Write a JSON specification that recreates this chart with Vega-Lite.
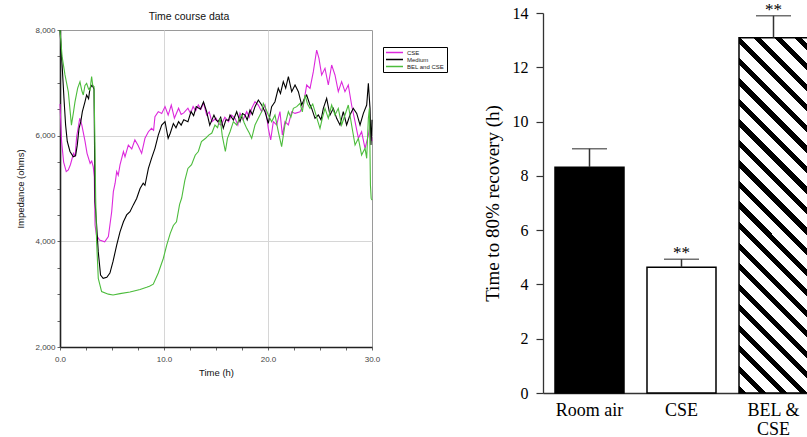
{
"$schema":"https://vega.github.io/schema/vega-lite/v6.json",
"background":"white",
"padding":{"left":15,"top":0,"right":0,"bottom":0},
"spacing":102,
"config":{"view":{"stroke":null}},
"datasets":{
"rec":[
{"group":"Room air","mean":8.32,"upper":9.0,"sig":""},
{"group":"CSE","mean":4.63,"upper":4.93,"sig":"**"},
{"group":"BEL & CSE","mean":13.09,"upper":13.9,"sig":"**"}
],
"tc":[
{"series":"CSE","time":0,"impedance":6600},{"series":"CSE","time":0.15,"impedance":5900},{"series":"CSE","time":0.35,"impedance":5500},{"series":"CSE","time":0.6,"impedance":5320},{"series":"CSE","time":0.8,"impedance":5350},{"series":"CSE","time":1.0,"impedance":5450},{"series":"CSE","time":1.3,"impedance":5665},{"series":"CSE","time":1.45,"impedance":5600},{"series":"CSE","time":1.6,"impedance":5980},{"series":"CSE","time":1.9,"impedance":6330},{"series":"CSE","time":2.1,"impedance":6200},{"series":"CSE","time":2.4,"impedance":5900},{"series":"CSE","time":2.6,"impedance":5665},{"series":"CSE","time":2.9,"impedance":5475},{"series":"CSE","time":3.05,"impedance":5520},{"series":"CSE","time":3.2,"impedance":5410},{"series":"CSE","time":3.3,"impedance":5220},{"series":"CSE","time":3.37,"impedance":4310},{"series":"CSE","time":3.5,"impedance":4120},{"series":"CSE","time":3.8,"impedance":4025},{"series":"CSE","time":4.3,"impedance":3990},{"series":"CSE","time":4.65,"impedance":4090},{"series":"CSE","time":4.8,"impedance":4310},{"series":"CSE","time":4.97,"impedance":4560},{"series":"CSE","time":5.13,"impedance":4940},{"series":"CSE","time":5.3,"impedance":5100},{"series":"CSE","time":5.45,"impedance":5320},{"series":"CSE","time":5.6,"impedance":5250},{"series":"CSE","time":5.77,"impedance":5445},{"series":"CSE","time":6.1,"impedance":5700},{"series":"CSE","time":6.25,"impedance":5600},{"series":"CSE","time":6.57,"impedance":5820},{"series":"CSE","time":6.9,"impedance":5750},{"series":"CSE","time":7.2,"impedance":5920},{"series":"CSE","time":7.5,"impedance":5820},{"series":"CSE","time":7.85,"impedance":5665},{"series":"CSE","time":8.17,"impedance":5950},{"series":"CSE","time":8.5,"impedance":6075},{"series":"CSE","time":8.8,"impedance":6140},{"series":"CSE","time":9.0,"impedance":6100},{"series":"CSE","time":9.13,"impedance":6360},{"series":"CSE","time":9.45,"impedance":6455},{"series":"CSE","time":9.78,"impedance":6420},{"series":"CSE","time":10.1,"impedance":6550},{"series":"CSE","time":10.4,"impedance":6390},{"series":"CSE","time":10.7,"impedance":6580},{"series":"CSE","time":11.0,"impedance":6330},{"series":"CSE","time":11.4,"impedance":6520},{"series":"CSE","time":11.65,"impedance":6400},{"series":"CSE","time":11.9,"impedance":6430},{"series":"CSE","time":12.3,"impedance":6520},{"series":"CSE","time":12.55,"impedance":6420},{"series":"CSE","time":12.8,"impedance":6550},{"series":"CSE","time":13.05,"impedance":6470},{"series":"CSE","time":13.3,"impedance":6580},{"series":"CSE","time":13.55,"impedance":6500},{"series":"CSE","time":13.8,"impedance":6620},{"series":"CSE","time":14.1,"impedance":6390},{"series":"CSE","time":14.35,"impedance":6450},{"series":"CSE","time":14.6,"impedance":6265},{"series":"CSE","time":15.0,"impedance":6330},{"series":"CSE","time":15.25,"impedance":6230},{"series":"CSE","time":15.5,"impedance":6200},{"series":"CSE","time":15.85,"impedance":6350},{"series":"CSE","time":16.2,"impedance":6265},{"series":"CSE","time":16.5,"impedance":6390},{"series":"CSE","time":16.83,"impedance":6328},{"series":"CSE","time":17.1,"impedance":6200},{"series":"CSE","time":17.31,"impedance":6422},{"series":"CSE","time":17.6,"impedance":6300},{"series":"CSE","time":17.95,"impedance":6454},{"series":"CSE","time":18.2,"impedance":6350},{"series":"CSE","time":18.43,"impedance":6517},{"series":"CSE","time":18.75,"impedance":6643},{"series":"CSE","time":19.07,"impedance":6580},{"series":"CSE","time":19.39,"impedance":6454},{"series":"CSE","time":19.71,"impedance":6580},{"series":"CSE","time":20.03,"impedance":6138},{"series":"CSE","time":20.26,"impedance":5918},{"series":"CSE","time":20.51,"impedance":6265},{"series":"CSE","time":20.83,"impedance":6202},{"series":"CSE","time":21.15,"impedance":6454},{"series":"CSE","time":21.38,"impedance":6012},{"series":"CSE","time":21.63,"impedance":6265},{"series":"CSE","time":21.96,"impedance":6202},{"series":"CSE","time":22.28,"impedance":6454},{"series":"CSE","time":22.6,"impedance":6422},{"series":"CSE","time":23.08,"impedance":6454},{"series":"CSE","time":23.4,"impedance":6580},{"series":"CSE","time":23.72,"impedance":6959},{"series":"CSE","time":24.04,"impedance":6896},{"series":"CSE","time":24.36,"impedance":7211},{"series":"CSE","time":24.68,"impedance":7621},{"series":"CSE","time":24.9,"impedance":7464},{"series":"CSE","time":25.16,"impedance":7148},{"series":"CSE","time":25.48,"impedance":7274},{"series":"CSE","time":25.8,"impedance":6959},{"series":"CSE","time":26.12,"impedance":7337},{"series":"CSE","time":26.44,"impedance":7148},{"series":"CSE","time":26.76,"impedance":6833},{"series":"CSE","time":27.08,"impedance":7022},{"series":"CSE","time":27.4,"impedance":6833},{"series":"CSE","time":27.72,"impedance":6959},{"series":"CSE","time":28.04,"impedance":6580},{"series":"CSE","time":28.37,"impedance":6265},{"series":"CSE","time":28.69,"impedance":5949},{"series":"CSE","time":29.0,"impedance":6075},{"series":"CSE","time":29.33,"impedance":5760},{"series":"CSE","time":29.65,"impedance":6012},{"series":"CSE","time":29.81,"impedance":6202},{"series":"CSE","time":30,"impedance":5900},
{"series":"Medium","time":0,"impedance":8000},{"series":"Medium","time":0.22,"impedance":7275},{"series":"Medium","time":0.38,"impedance":6710},{"series":"Medium","time":0.54,"impedance":6200},{"series":"Medium","time":0.7,"impedance":5890},{"series":"Medium","time":0.96,"impedance":5700},{"series":"Medium","time":1.28,"impedance":5600},{"series":"Medium","time":1.5,"impedance":5620},{"series":"Medium","time":1.66,"impedance":5820},{"series":"Medium","time":1.83,"impedance":6140},{"series":"Medium","time":2.0,"impedance":6265},{"series":"Medium","time":2.15,"impedance":6455},{"series":"Medium","time":2.4,"impedance":6640},{"series":"Medium","time":2.56,"impedance":6770},{"series":"Medium","time":2.75,"impedance":6700},{"series":"Medium","time":2.88,"impedance":6900},{"series":"Medium","time":3.1,"impedance":6960},{"series":"Medium","time":3.27,"impedance":6880},{"series":"Medium","time":3.37,"impedance":4750},{"series":"Medium","time":3.52,"impedance":4310},{"series":"Medium","time":3.68,"impedance":3800},{"series":"Medium","time":3.9,"impedance":3360},{"series":"Medium","time":4.15,"impedance":3300},{"series":"Medium","time":4.5,"impedance":3320},{"series":"Medium","time":4.8,"impedance":3400},{"series":"Medium","time":5.1,"impedance":3620},{"series":"Medium","time":5.45,"impedance":3930},{"series":"Medium","time":5.77,"impedance":4180},{"series":"Medium","time":6.1,"impedance":4370},{"series":"Medium","time":6.41,"impedance":4500},{"series":"Medium","time":6.73,"impedance":4560},{"series":"Medium","time":7.05,"impedance":4690},{"series":"Medium","time":7.37,"impedance":4810},{"series":"Medium","time":7.7,"impedance":5000},{"series":"Medium","time":8.0,"impedance":5100},{"series":"Medium","time":8.17,"impedance":5060},{"series":"Medium","time":8.5,"impedance":5380},{"series":"Medium","time":8.8,"impedance":5570},{"series":"Medium","time":9.13,"impedance":5760},{"series":"Medium","time":9.45,"impedance":6010},{"series":"Medium","time":9.78,"impedance":6200},{"series":"Medium","time":10.1,"impedance":6265},{"series":"Medium","time":10.4,"impedance":5950},{"series":"Medium","time":10.6,"impedance":6045},{"series":"Medium","time":10.9,"impedance":6230},{"series":"Medium","time":11.15,"impedance":6150},{"series":"Medium","time":11.4,"impedance":6265},{"series":"Medium","time":11.65,"impedance":6200},{"series":"Medium","time":11.9,"impedance":6300},{"series":"Medium","time":12.3,"impedance":6265},{"series":"Medium","time":12.6,"impedance":6455},{"series":"Medium","time":12.85,"impedance":6380},{"series":"Medium","time":13.1,"impedance":6550},{"series":"Medium","time":13.5,"impedance":6500},{"series":"Medium","time":13.8,"impedance":6640},{"series":"Medium","time":14.1,"impedance":6455},{"series":"Medium","time":14.4,"impedance":6200},{"series":"Medium","time":14.8,"impedance":6390},{"series":"Medium","time":15.0,"impedance":6300},{"series":"Medium","time":15.2,"impedance":6265},{"series":"Medium","time":15.45,"impedance":6350},{"series":"Medium","time":15.7,"impedance":6140},{"series":"Medium","time":15.95,"impedance":6300},{"series":"Medium","time":16.2,"impedance":6290},{"series":"Medium","time":16.35,"impedance":6391},{"series":"Medium","time":16.67,"impedance":6296},{"series":"Medium","time":16.99,"impedance":6454},{"series":"Medium","time":17.31,"impedance":6265},{"series":"Medium","time":17.55,"impedance":6420},{"series":"Medium","time":17.79,"impedance":6391},{"series":"Medium","time":18.0,"impedance":6300},{"series":"Medium","time":18.27,"impedance":6486},{"series":"Medium","time":18.5,"impedance":6400},{"series":"Medium","time":18.75,"impedance":6549},{"series":"Medium","time":19.07,"impedance":6675},{"series":"Medium","time":19.39,"impedance":6580},{"series":"Medium","time":19.71,"impedance":6454},{"series":"Medium","time":20.03,"impedance":6233},{"series":"Medium","time":20.35,"impedance":6549},{"series":"Medium","time":20.67,"impedance":6643},{"series":"Medium","time":20.99,"impedance":6896},{"series":"Medium","time":21.2,"impedance":6800},{"series":"Medium","time":21.47,"impedance":7022},{"series":"Medium","time":21.7,"impedance":6900},{"series":"Medium","time":21.96,"impedance":7117},{"series":"Medium","time":22.28,"impedance":6833},{"series":"Medium","time":22.6,"impedance":6959},{"series":"Medium","time":22.92,"impedance":6833},{"series":"Medium","time":23.24,"impedance":6580},{"series":"Medium","time":23.5,"impedance":6700},{"series":"Medium","time":23.72,"impedance":6770},{"series":"Medium","time":24.0,"impedance":6600},{"series":"Medium","time":24.2,"impedance":6517},{"series":"Medium","time":24.52,"impedance":6328},{"series":"Medium","time":24.84,"impedance":6391},{"series":"Medium","time":25.1,"impedance":6300},{"series":"Medium","time":25.32,"impedance":6517},{"series":"Medium","time":25.64,"impedance":6706},{"series":"Medium","time":25.96,"impedance":6391},{"series":"Medium","time":26.28,"impedance":6517},{"series":"Medium","time":26.6,"impedance":6328},{"series":"Medium","time":26.92,"impedance":6202},{"series":"Medium","time":27.24,"impedance":6454},{"series":"Medium","time":27.56,"impedance":6202},{"series":"Medium","time":27.88,"impedance":6391},{"series":"Medium","time":28.2,"impedance":6517},{"series":"Medium","time":28.53,"impedance":6422},{"series":"Medium","time":28.85,"impedance":6202},{"series":"Medium","time":29.17,"impedance":6422},{"series":"Medium","time":29.49,"impedance":6580},{"series":"Medium","time":29.65,"impedance":6990},{"series":"Medium","time":29.81,"impedance":6517},{"series":"Medium","time":29.9,"impedance":5823},{"series":"Medium","time":30,"impedance":6300},
{"series":"BEL and CSE","time":0,"impedance":8000},{"series":"BEL and CSE","time":0.2,"impedance":7500},{"series":"BEL and CSE","time":0.48,"impedance":7150},{"series":"BEL and CSE","time":0.8,"impedance":6830},{"series":"BEL and CSE","time":1.1,"impedance":6200},{"series":"BEL and CSE","time":1.3,"impedance":6450},{"series":"BEL and CSE","time":1.44,"impedance":6640},{"series":"BEL and CSE","time":1.7,"impedance":6900},{"series":"BEL and CSE","time":1.92,"impedance":7020},{"series":"BEL and CSE","time":2.1,"impedance":6850},{"series":"BEL and CSE","time":2.24,"impedance":6770},{"series":"BEL and CSE","time":2.4,"impedance":6950},{"series":"BEL and CSE","time":2.56,"impedance":6990},{"series":"BEL and CSE","time":2.75,"impedance":6880},{"series":"BEL and CSE","time":2.88,"impedance":6860},{"series":"BEL and CSE","time":3.04,"impedance":7120},{"series":"BEL and CSE","time":3.15,"impedance":6950},{"series":"BEL and CSE","time":3.27,"impedance":6930},{"series":"BEL and CSE","time":3.35,"impedance":6000},{"series":"BEL and CSE","time":3.43,"impedance":4820},{"series":"BEL and CSE","time":3.52,"impedance":3990},{"series":"BEL and CSE","time":3.68,"impedance":3300},{"series":"BEL and CSE","time":4.0,"impedance":3050},{"series":"BEL and CSE","time":4.65,"impedance":3000},{"series":"BEL and CSE","time":5.1,"impedance":2985},{"series":"BEL and CSE","time":5.77,"impedance":3010},{"series":"BEL and CSE","time":6.73,"impedance":3040},{"series":"BEL and CSE","time":7.7,"impedance":3090},{"series":"BEL and CSE","time":8.33,"impedance":3130},{"series":"BEL and CSE","time":8.6,"impedance":3150},{"series":"BEL and CSE","time":8.97,"impedance":3190},{"series":"BEL and CSE","time":9.45,"impedance":3400},{"series":"BEL and CSE","time":9.94,"impedance":3680},{"series":"BEL and CSE","time":10.26,"impedance":3930},{"series":"BEL and CSE","time":10.6,"impedance":4150},{"series":"BEL and CSE","time":10.9,"impedance":4300},{"series":"BEL and CSE","time":11.2,"impedance":4370},{"series":"BEL and CSE","time":11.5,"impedance":4700},{"series":"BEL and CSE","time":11.7,"impedance":4820},{"series":"BEL and CSE","time":12.0,"impedance":5150},{"series":"BEL and CSE","time":12.3,"impedance":5380},{"series":"BEL and CSE","time":12.65,"impedance":5450},{"series":"BEL and CSE","time":13.0,"impedance":5630},{"series":"BEL and CSE","time":13.3,"impedance":5700},{"series":"BEL and CSE","time":13.6,"impedance":5890},{"series":"BEL and CSE","time":14.0,"impedance":5950},{"series":"BEL and CSE","time":14.3,"impedance":6010},{"series":"BEL and CSE","time":14.6,"impedance":6050},{"series":"BEL and CSE","time":14.9,"impedance":6200},{"series":"BEL and CSE","time":15.15,"impedance":6150},{"series":"BEL and CSE","time":15.4,"impedance":6330},{"series":"BEL and CSE","time":15.6,"impedance":6000},{"series":"BEL and CSE","time":15.9,"impedance":5700},{"series":"BEL and CSE","time":16.1,"impedance":5950},{"series":"BEL and CSE","time":16.35,"impedance":6075},{"series":"BEL and CSE","time":16.67,"impedance":6265},{"series":"BEL and CSE","time":16.99,"impedance":6202},{"series":"BEL and CSE","time":17.2,"impedance":6300},{"series":"BEL and CSE","time":17.47,"impedance":6391},{"series":"BEL and CSE","time":17.7,"impedance":6250},{"series":"BEL and CSE","time":17.95,"impedance":6138},{"series":"BEL and CSE","time":18.2,"impedance":6050},{"series":"BEL and CSE","time":18.43,"impedance":5949},{"series":"BEL and CSE","time":18.75,"impedance":6202},{"series":"BEL and CSE","time":19.07,"impedance":6328},{"series":"BEL and CSE","time":19.39,"impedance":6454},{"series":"BEL and CSE","time":19.55,"impedance":6610},{"series":"BEL and CSE","time":19.71,"impedance":6549},{"series":"BEL and CSE","time":20.03,"impedance":6391},{"series":"BEL and CSE","time":20.35,"impedance":6265},{"series":"BEL and CSE","time":20.67,"impedance":6391},{"series":"BEL and CSE","time":20.99,"impedance":6075},{"series":"BEL and CSE","time":21.31,"impedance":5792},{"series":"BEL and CSE","time":21.63,"impedance":6202},{"series":"BEL and CSE","time":21.96,"impedance":6454},{"series":"BEL and CSE","time":22.2,"impedance":6350},{"series":"BEL and CSE","time":22.44,"impedance":6517},{"series":"BEL and CSE","time":22.76,"impedance":6549},{"series":"BEL and CSE","time":23.08,"impedance":6612},{"series":"BEL and CSE","time":23.3,"impedance":6450},{"series":"BEL and CSE","time":23.56,"impedance":6770},{"series":"BEL and CSE","time":23.8,"impedance":6600},{"series":"BEL and CSE","time":24.04,"impedance":6517},{"series":"BEL and CSE","time":24.3,"impedance":6600},{"series":"BEL and CSE","time":24.52,"impedance":6454},{"series":"BEL and CSE","time":24.75,"impedance":6300},{"series":"BEL and CSE","time":25.0,"impedance":6138},{"series":"BEL and CSE","time":25.25,"impedance":6350},{"series":"BEL and CSE","time":25.48,"impedance":6517},{"series":"BEL and CSE","time":25.8,"impedance":6328},{"series":"BEL and CSE","time":26.12,"impedance":6580},{"series":"BEL and CSE","time":26.44,"impedance":6391},{"series":"BEL and CSE","time":26.76,"impedance":6517},{"series":"BEL and CSE","time":27.08,"impedance":6202},{"series":"BEL and CSE","time":27.4,"impedance":6391},{"series":"BEL and CSE","time":27.72,"impedance":6580},{"series":"BEL and CSE","time":28.04,"impedance":6202},{"series":"BEL and CSE","time":28.37,"impedance":5823},{"series":"BEL and CSE","time":28.69,"impedance":5949},{"series":"BEL and CSE","time":29.0,"impedance":5634},{"series":"BEL and CSE","time":29.33,"impedance":5760},{"series":"BEL and CSE","time":29.49,"impedance":5571},{"series":"BEL and CSE","time":29.65,"impedance":6328},{"series":"BEL and CSE","time":29.75,"impedance":6517},{"series":"BEL and CSE","time":29.85,"impedance":5066},{"series":"BEL and CSE","time":29.92,"impedance":4813},{"series":"BEL and CSE","time":30,"impedance":4780}
]},
"hconcat":[
{
"width":312,"height":317,
"data":{"name":"tc"},
"view":{"stroke":"#9a9a9a","strokeWidth":1},
"title":{"text":"Time course data","font":"Liberation Sans","fontSize":10.5,"fontWeight":"normal","color":"#111","offset":4,"anchor":"middle","dx":-27},
"mark":{"type":"line","strokeWidth":1.1},
"encoding":{
"x":{"field":"time","type":"quantitative","scale":{"domain":[0,30],"nice":false,"zero":false},
"axis":{"title":"Time (h)","values":[0,2.5,5,7.5,10,12.5,15,17.5,20,22.5,25,27.5,30],
"labelExpr":"datum.value % 10 === 0 ? format(datum.value, '.1f') : ''",
"grid":true,"gridColor":"#d6d6d6","gridOpacity":{"condition":{"test":"datum.value % 10 === 0 && datum.value > 0 && datum.value < 30","value":1},"value":0},
"tickSize":3,"tickColor":"#666","domainColor":"#222","domainWidth":1.6,
"labelFont":"Liberation Sans","labelFontSize":8,"labelColor":"#444","labelPadding":5,"labelFlush":false,"labelOverlap":false,
"titleFont":"Liberation Sans","titleFontSize":9.5,"titleFontWeight":"normal","titleColor":"#111","titlePadding":4}},
"y":{"field":"impedance","type":"quantitative","scale":{"domain":[2000,8000],"nice":false,"zero":false},
"axis":{"title":"Impedance (ohms)","values":[2000,2500,3000,3500,4000,4500,5000,5500,6000,6500,7000,7500,8000],
"labelExpr":"datum.value % 2000 === 0 ? format(datum.value, ',') : ''",
"grid":true,"gridColor":"#d6d6d6","gridOpacity":{"condition":{"test":"datum.value % 2000 === 0 && datum.value > 2000 && datum.value < 8000","value":1},"value":0},
"tickSize":3,"tickColor":"#666","domainColor":"#222","domainWidth":1.6,
"labelFont":"Liberation Sans","labelFontSize":8,"labelColor":"#444","labelPadding":2,"labelFlush":false,"labelOverlap":false,
"titleFont":"Liberation Sans","titleFontSize":9.5,"titleFontWeight":"normal","titleColor":"#111","titlePadding":9}},
"color":{"field":"series","type":"nominal","scale":{"domain":["CSE","Medium","BEL and CSE"],"range":["#dc28dc","#000000","#4cbc3c"]},
"legend":{"title":null,"orient":"none","legendX":323,"legendY":17,"symbolType":"stroke","symbolSize":289,"symbolStrokeWidth":1.5,
"labelFont":"Liberation Sans","labelFontSize":6,"labelColor":"#222","labelOffset":3,"clipHeight":7,"rowPadding":0,"padding":2,
"strokeColor":"#000","fillColor":"white"}}
}
},
{
"width":265,"height":363,
"data":{"name":"rec"},
"encoding":{
"x":{"field":"group","type":"nominal","sort":null,"scale":{"paddingInner":0.25,"paddingOuter":0.0652,"align":1},
"axis":{"title":null,"labelAngle":0,"ticks":false,"tickSize":0,"domainColor":"#333","domainWidth":1.3,
"labelFont":"Liberation Serif","labelFontSize":18,"labelColor":"#000","labelPadding":8,"labelBaseline":"top","labelLineHeight":19,
"labelExpr":"datum.label === 'BEL & CSE' ? ['BEL &', 'CSE'] : datum.label"}}
},
"layer":[
{"mark":{"type":"bar","stroke":"#000","strokeWidth":1.5},
"encoding":{
"y":{"field":"mean","type":"quantitative","scale":{"domain":[0,14],"nice":false,"range":[363,-17]},
"axis":{"title":"Time to 80% recovery (h)","values":[0,1,2,3,4,5,6,7,8,9,10,11,12,13,14],
"labelExpr":"datum.value % 2 === 0 ? datum.label : ''",
"tickSize":{"condition":{"test":"datum.value % 2 === 0","value":7},"value":4},
"tickColor":"#333","tickWidth":1.2,"domainColor":"#333","domainWidth":1.3,"grid":false,
"labelFont":"Liberation Serif","labelFontSize":16,"labelColor":"#000","labelPadding":8,
"titleFont":"Liberation Serif","titleFontSize":19,"titleFontWeight":"normal","titleColor":"#000","titlePadding":10}},
"fill":{"condition":[{"test":"datum.group === 'Room air'","value":"#000"},{"test":"datum.group === 'CSE'","value":"#fff"}],
"value":{"gradient":"linear","x1":0,"y1":1,"x2":0.2235,"y2":-0.1506,"stops":[
{"offset":0,"color":"#000"},{"offset":0.017,"color":"#000"},{"offset":0.017,"color":"#fff"},{"offset":0.0484,"color":"#fff"},
{"offset":0.0484,"color":"#000"},{"offset":0.0654,"color":"#000"},{"offset":0.0654,"color":"#fff"},{"offset":0.0968,"color":"#fff"},
{"offset":0.0968,"color":"#000"},{"offset":0.1138,"color":"#000"},{"offset":0.1138,"color":"#fff"},{"offset":0.1452,"color":"#fff"},
{"offset":0.1452,"color":"#000"},{"offset":0.1622,"color":"#000"},{"offset":0.1622,"color":"#fff"},{"offset":0.1936,"color":"#fff"},
{"offset":0.1936,"color":"#000"},{"offset":0.2106,"color":"#000"},{"offset":0.2106,"color":"#fff"},{"offset":0.242,"color":"#fff"},
{"offset":0.242,"color":"#000"},{"offset":0.259,"color":"#000"},{"offset":0.259,"color":"#fff"},{"offset":0.2904,"color":"#fff"},
{"offset":0.2904,"color":"#000"},{"offset":0.3074,"color":"#000"},{"offset":0.3074,"color":"#fff"},{"offset":0.3388,"color":"#fff"},
{"offset":0.3388,"color":"#000"},{"offset":0.3558,"color":"#000"},{"offset":0.3558,"color":"#fff"},{"offset":0.3872,"color":"#fff"},
{"offset":0.3872,"color":"#000"},{"offset":0.4042,"color":"#000"},{"offset":0.4042,"color":"#fff"},{"offset":0.4356,"color":"#fff"},
{"offset":0.4356,"color":"#000"},{"offset":0.4526,"color":"#000"},{"offset":0.4526,"color":"#fff"},{"offset":0.484,"color":"#fff"},
{"offset":0.484,"color":"#000"},{"offset":0.501,"color":"#000"},{"offset":0.501,"color":"#fff"},{"offset":0.5324,"color":"#fff"},
{"offset":0.5324,"color":"#000"},{"offset":0.5494,"color":"#000"},{"offset":0.5494,"color":"#fff"},{"offset":0.5808,"color":"#fff"},
{"offset":0.5808,"color":"#000"},{"offset":0.5978,"color":"#000"},{"offset":0.5978,"color":"#fff"},{"offset":0.6292,"color":"#fff"},
{"offset":0.6292,"color":"#000"},{"offset":0.6462,"color":"#000"},{"offset":0.6462,"color":"#fff"},{"offset":0.6776,"color":"#fff"},
{"offset":0.6776,"color":"#000"},{"offset":0.6946,"color":"#000"},{"offset":0.6946,"color":"#fff"},{"offset":0.726,"color":"#fff"},
{"offset":0.726,"color":"#000"},{"offset":0.743,"color":"#000"},{"offset":0.743,"color":"#fff"},{"offset":0.7744,"color":"#fff"},
{"offset":0.7744,"color":"#000"},{"offset":0.7914,"color":"#000"},{"offset":0.7914,"color":"#fff"},{"offset":0.8228,"color":"#fff"},
{"offset":0.8228,"color":"#000"},{"offset":0.8398,"color":"#000"},{"offset":0.8398,"color":"#fff"},{"offset":0.8712,"color":"#fff"},
{"offset":0.8712,"color":"#000"},{"offset":0.8882,"color":"#000"},{"offset":0.8882,"color":"#fff"},{"offset":0.9196,"color":"#fff"},
{"offset":0.9196,"color":"#000"},{"offset":0.9366,"color":"#000"},{"offset":0.9366,"color":"#fff"},{"offset":0.968,"color":"#fff"},
{"offset":0.968,"color":"#000"},{"offset":0.985,"color":"#000"},{"offset":0.985,"color":"#fff"},{"offset":1,"color":"#fff"}
]}}
}},
{"mark":{"type":"rule","color":"#333","strokeWidth":1.5},
"encoding":{"y":{"field":"mean","type":"quantitative"},"y2":{"field":"upper"}}},
{"mark":{"type":"tick","color":"#333","thickness":1.5,"size":35,"orient":"horizontal"},
"encoding":{"y":{"field":"upper","type":"quantitative"}}},
{"mark":{"type":"text","font":"Liberation Serif","fontSize":17,"baseline":"alphabetic","dy":-1,"color":"#000"},
"encoding":{"y":{"field":"upper","type":"quantitative"},"text":{"field":"sig"}}}
]
}
]
}
